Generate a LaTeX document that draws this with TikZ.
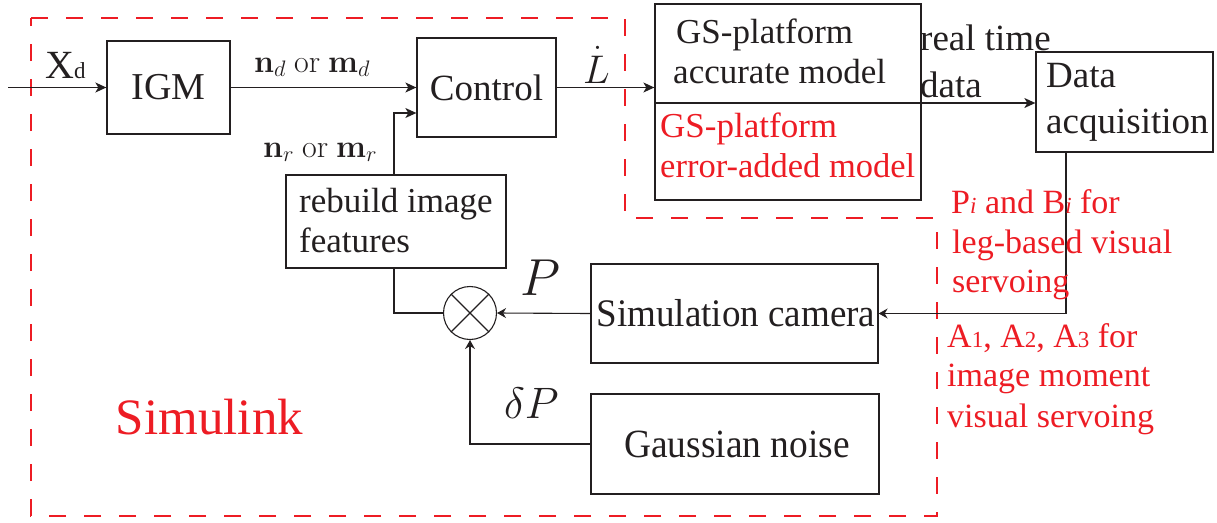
\RequirePackage{fix-cm}
\documentclass[tikz,border=0pt]{standalone}
\usepackage[no-math]{fontspec}
\setmainfont{Liberation Serif}
\usetikzlibrary{arrows.meta,calc}
\definecolor{redd}{RGB}{237,28,36}
\definecolor{ink}{RGB}{35,31,32}
\newcommand{\fsz}[1]{\fontsize{#1}{#1}\selectfont}
\begin{document}
\begin{tikzpicture}[x=1pt,y=-1pt,
  box/.style={draw=ink, line width=1.3pt, inner sep=0pt, text=ink},
  arr/.style={draw=ink, line width=1.3pt, -{Stealth[length=11pt,width=10pt,inset=3pt]}},
  sarr/.style={draw=ink, line width=1.1pt, -{Stealth[length=9pt,width=10pt,inset=3pt]}},
  ln/.style={draw=ink, line width=1.3pt},
  sln/.style={draw=ink, line width=1.1pt},
  bound/.style={draw=redd, line width=1.5pt, dash pattern=on 17pt off 18pt},
  txt/.style={inner sep=0pt, anchor=base west, text=ink},
  rtxt/.style={inner sep=0pt, anchor=base west, text=redd},
]
\useasboundingbox (0,0) rectangle (1217,522);
% Simulink boundary
\draw[bound] (31,18) -- (625,18) -- (625,218) -- (937,218) -- (937,516) -- (31,516) -- cycle;

% boxes
\node[box, minimum width=123pt, minimum height=93pt, font=\fsz{38}] (igm) at (168.5,87.5) {IGM};
\node[box, minimum width=139pt, minimum height=99pt, font=\fsz{37}] (control) at (486.5,87.5) {Control};
\node[box, minimum width=266pt, minimum height=196pt] (gs) at (788,102) {};
\node[box, minimum width=177pt, minimum height=100pt] (data) at (1124.5,102) {};
\node[box, minimum width=220pt, minimum height=93pt] (rebuild) at (396,221.5) {};
\node[box, minimum width=287pt, minimum height=99pt, font=\fsz{39}] (simcam) at (734.5,313.5) {\hspace*{3pt}\scalebox{0.95}[1]{Simulation camera}};
\node[box, minimum width=288pt, minimum height=100pt, font=\fsz{40}] (gauss) at (735,444) {\hspace*{4pt}\scalebox{0.935}[1]{Gaussian noise}};
\node[draw=ink, line width=1.1pt, circle, minimum size=53pt, inner sep=0pt] (sum) at (470,313) {};
\draw[sln] (sum.north east) -- (sum.south west);
\draw[sln] (sum.north west) -- (sum.south east);

% box texts
\node[txt, font=\fsz{35}] (gs1) at (676,43) {GS-platform};
\node[txt, font=\fsz{35}] (gs2) at (673,83) {accurate model};
\node[rtxt, font=\fsz{35}] (gs3) at (660,137) {GS-platform};
\node[rtxt, font=\fsz{34.5}] (gs4) at (660,177) {error-added model};
\node[txt, font=\fsz{37}] (da1) at (1046,87) {Data};
\node[txt, font=\fsz{37}] (da2) at (1046,133) {acquisition};
\node[txt, font=\fsz{35}] (rb1) at (299,212) {rebuild image};
\node[txt, font=\fsz{35}] (rb2) at (299,252) {features};

% connectors
\coordinate (xin) at (8,87.5);
\draw[arr] (xin) -- (igm.west);
\draw[arr] (igm.east) -- (control.west);
\draw[arr] (rebuild.north -| 394,0) |- ([yshift=-25.5pt]control.west);
\draw[arr] (control.east) -- (control.east -| gs.west);
\coordinate (divL) at (gs.west |- 0,103);
\coordinate (divR) at (gs.east |- 0,103);
\draw[ln] (divL) -- (divR);
\draw[arr] (divR) -- (data.west |- divR);
\draw[sarr] (data.south -| 1066,0) |- (simcam.east);
\draw[sarr] (simcam.west) -- (sum.east);
\draw[sln] (rebuild.south -| 394,0) |- (sum.west);
\draw[sarr] (gauss.west) -| (sum.south);

% labels
\node[txt, font=\fsz{40}] (xd) at (45,78) {X{\fsz{23}d}};
\node[txt, font=\fsz{32}] (nd) at (254,72) {$\mathbf{n}_d\ \mathrm{or}\ \mathbf{m}_d$};
\node[txt, font=\fsz{32}] (nr) at (263,157) {$\mathbf{n}_r\ \mathrm{or}\ \mathbf{m}_r$};
\node[txt, font=\fsz{40}] (ldot) at (583,83) {$\dot{L}$};
\node[txt, font=\fsz{37}] (rt1) at (920,50) {real time};
\node[txt, font=\fsz{37}] (rt2) at (920,97) {data};
\node[txt, font=\fsz{52}] (plab) at (520,295) {$P$};
\node[txt, font=\fsz{44}] (dplab) at (504,418) {$\delta P$};
\node[inner sep=0pt, anchor=base, text=redd, font=\fsz{51}] (simulink) at (209.5,434) {Simulink};

\node[rtxt, font=\fsz{34}] (n1) at (951,213) {P{\fsz{23}\itshape i} and B{\fsz{23}\itshape i} for};
\node[rtxt, font=\fsz{34}] (n2) at (952,253) {leg-based visual};
\node[rtxt, font=\fsz{34}] (n3) at (952,292) {servoing};
\node[rtxt, font=\fsz{34}] (n4) at (947,347) {A{\fsz{23}1}, A{\fsz{23}2}, A{\fsz{23}3} for};
\node[rtxt, font=\fsz{34}] (n5) at (947,386) {image moment};
\node[rtxt, font=\fsz{34}] (n6) at (947,427) {visual servoing};
\end{tikzpicture}
\end{document}
